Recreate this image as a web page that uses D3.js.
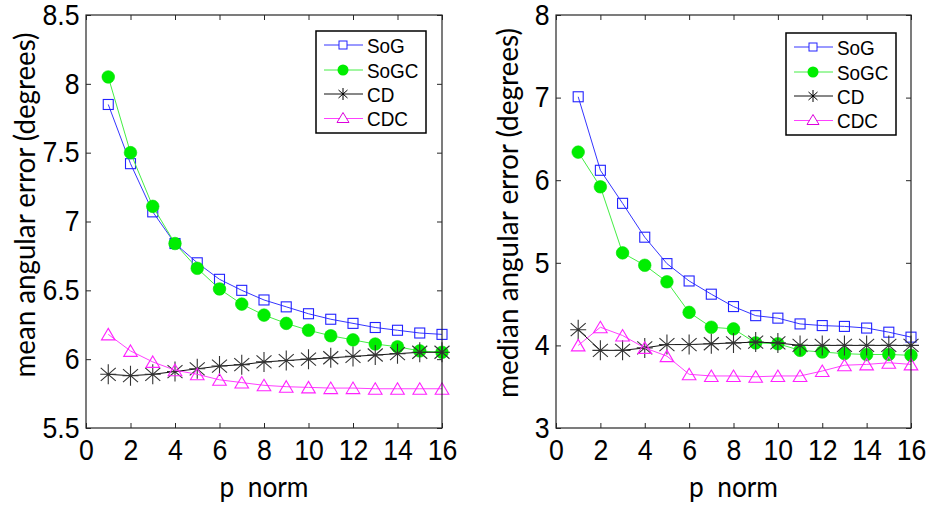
<!DOCTYPE html>
<html>
<head>
<meta charset="utf-8">
<script src="https://cdn.jsdelivr.net/npm/d3@7"></script>
<style>
  html, body { margin: 0; padding: 0; background: #fff; }
  svg { display: block; }
  .tick text { font-family: "Liberation Sans", Arial, sans-serif; fill: #000; }
  .tick line { stroke: #262626; }
</style>
</head>
<body>
<div id="chart"></div>
<script>
// p-norm values on the x axis
const pNorm = [1, 2, 3, 4, 5, 6, 7, 8, 9, 10, 11, 12, 13, 14, 15, 16];
const xTicks = [0, 2, 4, 6, 8, 10, 12, 14, 16];

const seriesNames = ["SoG", "SoGC", "CD", "CDC"];

// left panel: mean angular error
const meanSoG  = [7.85, 7.42, 7.07, 6.84, 6.70, 6.58, 6.50, 6.43, 6.38, 6.33, 6.29, 6.26, 6.23, 6.21, 6.19, 6.18];
const meanSoGC = [8.05, 7.50, 7.11, 6.84, 6.66, 6.51, 6.40, 6.32, 6.26, 6.21, 6.17, 6.14, 6.11, 6.09, 6.06, 6.05];
const meanCD   = [5.89, 5.88, 5.89, 5.91, 5.93, 5.95, 5.96, 5.98, 5.99, 6.00, 6.01, 6.02, 6.03, 6.04, 6.05, 6.05];
const meanCDC  = [6.18, 6.06, 5.98, 5.92, 5.89, 5.85, 5.83, 5.81, 5.80, 5.795, 5.79, 5.79, 5.785, 5.785, 5.785, 5.785];
const meanTicks = [5.5, 6, 6.5, 7, 7.5, 8, 8.5];

// right panel: median angular error
const medianSoG  = [7.01, 6.12, 5.72, 5.31, 4.99, 4.78, 4.62, 4.47, 4.36, 4.33, 4.26, 4.24, 4.23, 4.21, 4.16, 4.10];
const medianSoGC = [6.34, 5.92, 5.12, 4.97, 4.77, 4.40, 4.22, 4.20, 4.03, 4.02, 3.94, 3.92, 3.90, 3.89, 3.89, 3.88];
const medianCD   = [4.19, 3.94, 3.94, 3.97, 4.01, 4.01, 4.02, 4.03, 4.04, 4.03, 4.00, 4.00, 4.00, 4.00, 4.00, 4.00];
const medianCDC  = [4.00, 4.22, 4.12, 3.97, 3.87, 3.65, 3.63, 3.63, 3.62, 3.63, 3.63, 3.69, 3.76, 3.77, 3.79, 3.77];
const medianTicks = [3, 4, 5, 6, 7, 8];

const width  = 930,
      height = 506,
      textSx = 0.92;   // the reference text is a little condensed

const styles = {
  SoG:  {line: "#3535ff", marker: "square"},
  SoGC: {line: "#44ee44", marker: "circle"},
  CD:   {line: "#111111", marker: "star"},
  CDC:  {line: "#ff40ff", marker: "triangle"}
};

const panels = [
  {
    box: {x0: 86, x1: 442, y0: 15, y1: 428},
    domain: [5.5, 8.5], ticks: meanTicks,
    series: [meanSoG, meanSoGC, meanCD, meanCDC],
    ylabel: "mean angular error (degrees)", ylabelPos: [35, 205], ylabelLen: 345,
    legend: {x: 316, y: 31}
  },
  {
    box: {x0: 556, x1: 911, y0: 15, y1: 428},
    domain: [3, 8], ticks: medianTicks,
    series: [medianSoG, medianSoGC, medianCD, medianCDC],
    ylabel: "median angular error (degrees)", ylabelPos: [518, 213], ylabelLen: 370,
    legend: {x: 786, y: 33}
  }
];

const svg = d3.select("#chart").append("svg")
  .attr("width", width)
  .attr("height", height);

svg.append("rect").attr("width", width).attr("height", height).attr("fill", "#fff");

function drawMarker(g, type, cx, cy, color) {
  if (type === "square") {
    g.append("rect")
      .attr("x", cx - 5).attr("y", cy - 5)
      .attr("width", 10).attr("height", 10)
      .attr("fill", "none").attr("stroke", "#2222ff").attr("stroke-width", 1.1);
  } else if (type === "circle") {
    g.append("circle")
      .attr("cx", cx).attr("cy", cy).attr("r", 6.3)
      .attr("fill", "#00ee00").attr("stroke", "#00e000").attr("stroke-width", 0.6);
  } else if (type === "star") {
    const p = d3.path();
    p.moveTo(cx, cy - 10); p.lineTo(cx, cy + 10);
    p.moveTo(cx - 8, cy); p.lineTo(cx + 8, cy);
    p.moveTo(cx - 7.5, cy - 6.5); p.lineTo(cx + 7.5, cy + 6.5);
    p.moveTo(cx - 7.5, cy + 6.5); p.lineTo(cx + 7.5, cy - 6.5);
    g.append("path")
      .attr("d", p.toString())
      .attr("fill", "none").attr("stroke", "#333").attr("stroke-width", 1.1);
  } else if (type === "triangle") {
    const p = d3.path();
    p.moveTo(cx, cy - 6);
    p.lineTo(cx + 6.8, cy + 5.5);
    p.lineTo(cx - 6.8, cy + 5.5);
    p.closePath();
    g.append("path")
      .attr("d", p.toString())
      .attr("fill", "none").attr("stroke", "#ff22ff").attr("stroke-width", 1.1);
  }
}

panels.forEach(function (pan) {
  const b = pan.box;

  const x = d3.scaleLinear().domain([0, 16]).range([b.x0, b.x1]);
  const y = d3.scaleLinear().domain(pan.domain).range([b.y1, b.y0]);

  const g = svg.append("g");

  // ticks on all four sides, pointing inward
  g.append("g")
    .attr("transform", `translate(0,${b.y1})`)
    .call(d3.axisBottom(x).tickValues(xTicks).tickSizeInner(-5).tickSizeOuter(0).tickPadding(11))
    .call(a => a.select(".domain").remove())
    .call(a => a.selectAll("text").attr("font-size", 29).attr("transform", `scale(${textSx},1)`));

  g.append("g")
    .attr("transform", `translate(0,${b.y0})`)
    .call(d3.axisTop(x).tickValues(xTicks).tickSizeInner(-5).tickSizeOuter(0).tickFormat(""))
    .call(a => a.select(".domain").remove());

  g.append("g")
    .attr("transform", `translate(${b.x0},0)`)
    .call(d3.axisLeft(y).tickValues(pan.ticks).tickSizeInner(-5).tickSizeOuter(0).tickPadding(7)
      .tickFormat(d3.format("")))
    .call(a => a.select(".domain").remove())
    .call(a => a.selectAll("text").attr("font-size", 29).attr("transform", `scale(${textSx},1)`));

  g.append("g")
    .attr("transform", `translate(${b.x1},0)`)
    .call(d3.axisRight(y).tickValues(pan.ticks).tickSizeInner(-5).tickSizeOuter(0).tickFormat(""))
    .call(a => a.select(".domain").remove());

  // lines + markers
  const line = d3.line()
    .x(function (d, i) { return x(pNorm[i]); })
    .y(function (d) { return y(d); });

  seriesNames.forEach(function (name, k) {
    const vals = pan.series[k];
    const st = styles[name];
    g.append("path")
      .datum(vals)
      .attr("d", line)
      .attr("fill", "none")
      .attr("stroke", st.line)
      .attr("stroke-width", 1);
    const mg = g.append("g");
    vals.forEach(function (v, i) {
      drawMarker(mg, st.marker, x(pNorm[i]), y(v), st.line);
    });
  });

  // axes box
  g.append("rect")
    .attr("x", b.x0).attr("y", b.y0)
    .attr("width", b.x1 - b.x0).attr("height", b.y1 - b.y0)
    .attr("fill", "none").attr("stroke", "#262626").attr("stroke-width", 1.2);

  // axis labels
  g.append("text")
    .attr("x", (b.x0 + b.x1) / 2)
    .attr("y", 497)
    .attr("text-anchor", "middle")
    .attr("font-family", "Lato, 'Open Sans', sans-serif")
    .attr("font-size", 28)
    .attr("textLength", 89)
    .attr("lengthAdjust", "spacingAndGlyphs")
    .style("white-space", "pre")
    .text("p  norm");

  g.append("text")
    .attr("transform", `translate(${pan.ylabelPos[0]},${pan.ylabelPos[1]}) rotate(-90)`)
    .attr("text-anchor", "middle")
    .attr("font-family", "Lato, 'Open Sans', sans-serif")
    .attr("font-size", 28)
    .attr("textLength", pan.ylabelLen)
    .attr("lengthAdjust", "spacingAndGlyphs")
    .text(pan.ylabel);

  // legend
  const lg = g.append("g").attr("transform", `translate(${pan.legend.x},${pan.legend.y})`);
  lg.append("rect")
    .attr("width", 110).attr("height", 102)
    .attr("fill", "#fff").attr("stroke", "#000").attr("stroke-width", 1.5);

  const rowY = [14, 39, 63, 87.5];
  seriesNames.forEach(function (name, k) {
    const st = styles[name];
    lg.append("line")
      .attr("x1", 8).attr("x2", 47)
      .attr("y1", rowY[k]).attr("y2", rowY[k])
      .attr("stroke", st.line).attr("stroke-width", 1);
    const mk = lg.append("g");
    if (st.marker === "circle") {
      mk.append("circle").attr("cx", 27).attr("cy", rowY[k]).attr("r", 5.5).attr("fill", "#00ee00");
    } else if (st.marker === "star") {
      const p = d3.path();
      p.moveTo(27, rowY[k] - 6); p.lineTo(27, rowY[k] + 6);
      p.moveTo(22.5, rowY[k] - 4); p.lineTo(31.5, rowY[k] + 4);
      p.moveTo(22.5, rowY[k] + 4); p.lineTo(31.5, rowY[k] - 4);
      mk.append("path").attr("d", p.toString()).attr("stroke", "#000").attr("fill", "none");
    } else if (st.marker === "square") {
      mk.append("rect").attr("x", 23).attr("y", rowY[k] - 4).attr("width", 8).attr("height", 8)
        .attr("fill", "#fff").attr("stroke", "#2222ff");
    } else {
      const p = d3.path();
      p.moveTo(27, rowY[k] - 6); p.lineTo(33, rowY[k] + 4); p.lineTo(21, rowY[k] + 4); p.closePath();
      mk.append("path").attr("d", p.toString()).attr("fill", "#fff").attr("stroke", "#dd00dd");
    }
    lg.append("text")
      .attr("transform", `translate(51,${rowY[k] + 7.5}) scale(0.9,1)`)
      .attr("font-family", "'Liberation Sans', Arial, sans-serif")
      .attr("font-size", 21)
      .text(name);
  });
});
</script>
</body>
</html>
